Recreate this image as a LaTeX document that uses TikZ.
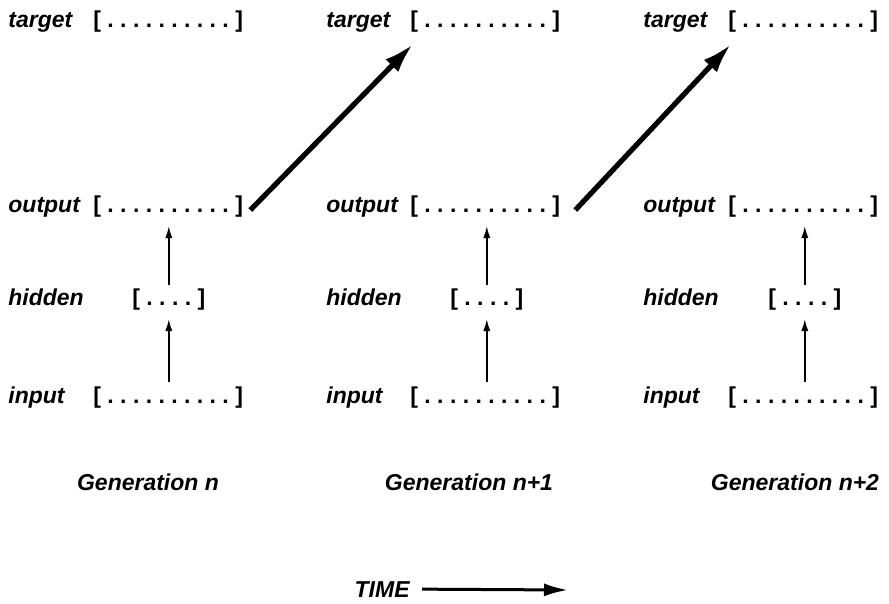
\documentclass[tikz,border=0pt]{standalone}
\usepackage{fontspec}
\setmainfont{Liberation Sans}
\usetikzlibrary{arrows.meta,calc,positioning}
\newcommand{\wideunits}{\frenchspacing[ . . . . . . . . . . ]}
\newcommand{\narrowunits}{\frenchspacing[ . . . . ]}
\tikzset{
  layer/.style={anchor=base west, inner sep=0pt, font=\fontsize{11.5}{13}\selectfont\bfseries\itshape},
  units/.style={anchor=base west, inner sep=0pt, font=\fontsize{11.5}{13}\selectfont\bfseries},
  genLabel/.style={anchor=base, inner sep=0pt, font=\fontsize{11.5}{13}\selectfont\bfseries\itshape},
  feedArrow/.style={-{Latex[length=6pt,width=3.6pt]}, line width=0.7pt},   % hidden -> output
  genArrow/.style={-{Latex[length=15pt,width=9pt]}, line width=2.6pt},     % output -> next target
  timeArrow/.style={-{Latex[length=12pt,width=6.5pt]}, line width=1.5pt}
}

\begin{document}
\begin{tikzpicture}[x=0.5pt,y=-0.5pt]
  \useasboundingbox (0,0) rectangle (889,604);

  % generation n
  \node[layer] (targetA) at (8,28) {target};
  \node[units] (targetAu) at (93,28) {\wideunits};
  \node[layer] (outputA) at (8,213) {output};
  \node[units] (outputAu) at (93,213) {\wideunits};
  \node[layer] (hiddenA) at (8,306) {hidden};
  \node[units] (hiddenAu) at (132,306) {\narrowunits};
  \node[layer] (inputA) at (8,403) {input};
  \node[units] (inputAu) at (93,403) {\wideunits};
  \node[genLabel] (genA) at (148,490) {Generation n};

  % generation n+1
  \node[layer] (targetB) at (326,28) {target};
  \node[units] (targetBu) at (410,28) {\wideunits};
  \node[layer] (outputB) at (326,213) {output};
  \node[units] (outputBu) at (410,213) {\wideunits};
  \node[layer] (hiddenB) at (326,306) {hidden};
  \node[units] (hiddenBu) at (450,306) {\narrowunits};
  \node[layer] (inputB) at (326,403) {input};
  \node[units] (inputBu) at (410,403) {\wideunits};
  \node[genLabel] (genB) at (469,490) {Generation n+1};

  % generation n+2
  \node[layer] (targetC) at (643,28) {target};
  \node[units] (targetCu) at (728,28) {\wideunits};
  \node[layer] (outputC) at (643,213) {output};
  \node[units] (outputCu) at (728,213) {\wideunits};
  \node[layer] (hiddenC) at (643,306) {hidden};
  \node[units] (hiddenCu) at (768,306) {\narrowunits};
  \node[layer] (inputC) at (643,403) {input};
  \node[units] (inputCu) at (728,403) {\wideunits};
  \node[genLabel] (genC) at (795,490) {Generation n+2};

  \draw[feedArrow, shorten <=2pt, shorten >=4pt] (hiddenAu.south |- inputAu.north) -- (hiddenAu.south);
  \draw[feedArrow, shorten <=2pt, shorten >=4pt] (hiddenAu.north) -- (hiddenAu.north |- outputAu.south);
  \draw[feedArrow, shorten <=2pt, shorten >=4pt] (hiddenBu.south |- inputBu.north) -- (hiddenBu.south);
  \draw[feedArrow, shorten <=2pt, shorten >=4pt] (hiddenBu.north) -- (hiddenBu.north |- outputBu.south);
  \draw[feedArrow, shorten <=2pt, shorten >=4pt] (hiddenCu.south |- inputCu.north) -- (hiddenCu.south);
  \draw[feedArrow, shorten <=2pt, shorten >=4pt] (hiddenCu.north) -- (hiddenCu.north |- outputCu.south);

  \draw[genArrow] ($(outputAu.east)+(7,3)$) -- ($(targetBu.south west)+(3,11)$);
  \draw[genArrow] ($(outputBu.east)+(15,3)$) -- ($(targetCu.south west)+(3,11)$);

  \node[genLabel, anchor=base east] (time) at (410,597) {TIME};
  \coordinate (timeEnd) at (568,590);
  \draw[timeArrow, shorten <=6pt] (time.east) -- (timeEnd);
\end{tikzpicture}
\end{document}
